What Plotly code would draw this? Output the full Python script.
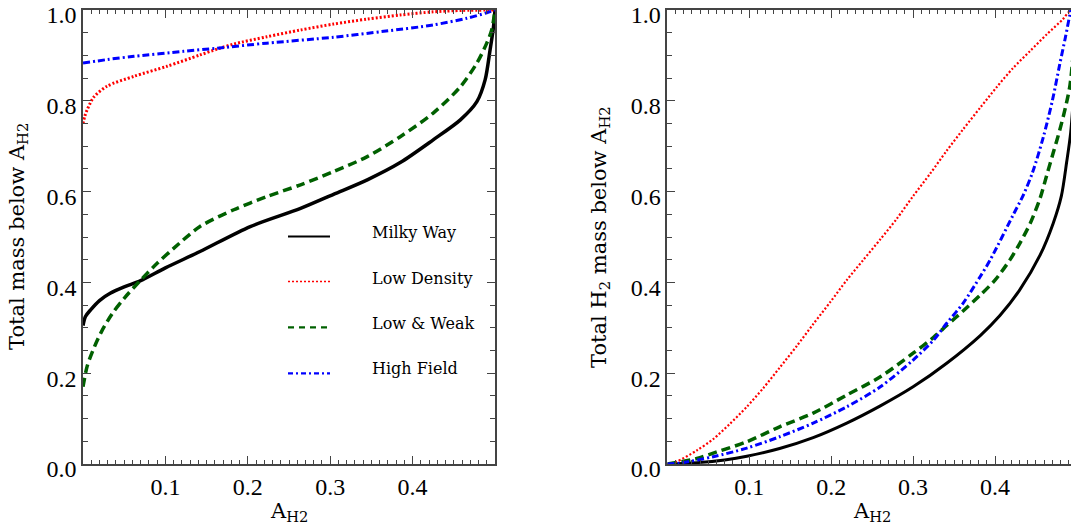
import plotly.graph_objects as go

W, H = 1071, 529

# ---------------- data ----------------
# Left panel: total mass below A_H2
mw_x = [0, 0.003, 0.009, 0.02, 0.033, 0.05, 0.07, 0.1, 0.142, 0.203, 0.264, 0.304, 0.345, 0.385, 0.425, 0.458, 0.478, 0.488, 0.494, 0.498, 0.5]
mw_y = [0.305, 0.325, 0.339, 0.36, 0.376, 0.39, 0.404, 0.432, 0.468, 0.523, 0.563, 0.594, 0.626, 0.664, 0.714, 0.758, 0.798, 0.846, 0.912, 0.96, 1.0]

ld_x = [0, 0.002, 0.005, 0.013, 0.029, 0.062, 0.102, 0.142, 0.163, 0.183, 0.223, 0.264, 0.304, 0.345, 0.385, 0.425, 0.46, 0.5]
ld_y = [0.75, 0.765, 0.78, 0.808, 0.832, 0.854, 0.876, 0.901, 0.914, 0.925, 0.941, 0.956, 0.969, 0.98, 0.989, 0.996, 0.999, 1.0]

lw_x = [0, 0.005, 0.012, 0.022, 0.035, 0.05, 0.07, 0.09, 0.11, 0.142, 0.183, 0.223, 0.264, 0.304, 0.345, 0.385, 0.425, 0.458, 0.478, 0.49, 0.496, 0.5]
lw_y = [0.17, 0.215, 0.25, 0.29, 0.33, 0.365, 0.405, 0.442, 0.475, 0.523, 0.56, 0.589, 0.615, 0.644, 0.677, 0.721, 0.773, 0.831, 0.883, 0.927, 0.956, 1.0]

hf_x = [0, 0.03, 0.062, 0.122, 0.163, 0.223, 0.304, 0.365, 0.425, 0.466, 0.49, 0.5]
hf_y = [0.883, 0.891, 0.898, 0.909, 0.916, 0.927, 0.94, 0.953, 0.967, 0.982, 0.994, 1.0]

# Right panel: total H2 mass below A_H2
mw2_x = [0, 0.036, 0.07, 0.097, 0.137, 0.178, 0.219, 0.26, 0.30, 0.341, 0.382, 0.406, 0.43, 0.455, 0.471, 0.481, 0.4875, 0.4924, 0.497, 0.5]
mw2_y = [0, 0.003, 0.009, 0.017, 0.034, 0.058, 0.09, 0.128, 0.17, 0.222, 0.283, 0.327, 0.383, 0.46, 0.53, 0.59, 0.665, 0.73, 0.85, 1.0]

ld2_x = [0, 0.011, 0.036, 0.056, 0.076, 0.097, 0.117, 0.137, 0.158, 0.178, 0.199, 0.219, 0.239, 0.26, 0.28, 0.30, 0.321, 0.341, 0.361, 0.382, 0.402, 0.422, 0.443, 0.463, 0.483, 0.49, 0.5]
ld2_y = [0, 0.005, 0.03, 0.055, 0.088, 0.126, 0.167, 0.212, 0.26, 0.308, 0.357, 0.405, 0.449, 0.495, 0.54, 0.59, 0.64, 0.69, 0.737, 0.785, 0.83, 0.872, 0.91, 0.946, 0.98, 0.995, 1.0]

lw2_x = [0, 0.036, 0.056, 0.097, 0.137, 0.178, 0.219, 0.26, 0.30, 0.325, 0.341, 0.361, 0.382, 0.40, 0.418, 0.43, 0.443, 0.455, 0.463, 0.471, 0.479, 0.486, 0.4916, 0.5]
lw2_y = [0, 0.012, 0.024, 0.049, 0.082, 0.112, 0.152, 0.192, 0.244, 0.279, 0.305, 0.337, 0.372, 0.405, 0.449, 0.485, 0.53, 0.585, 0.635, 0.685, 0.735, 0.785, 0.835, 1.0]

hf2_x = [0, 0.015, 0.056, 0.097, 0.137, 0.178, 0.219, 0.26, 0.30, 0.325, 0.341, 0.361, 0.382, 0.394, 0.422, 0.435, 0.446, 0.459, 0.47, 0.479, 0.486, 0.4915, 0.493, 0.5]
hf2_y = [0, 0.002, 0.016, 0.035, 0.06, 0.09, 0.126, 0.17, 0.229, 0.273, 0.31, 0.354, 0.413, 0.449, 0.548, 0.594, 0.643, 0.72, 0.8, 0.88, 0.94, 0.99, 1.0, 1.0]

series_names = ["Milky Way", "Low Density", "Low & Weak", "High Field"]
x_ticks = [0.1, 0.2, 0.3, 0.4]
y_ticks = [0.0, 0.2, 0.4, 0.6, 0.8, 1.0]

# ---------------- styling ----------------
COL = {"Milky Way": "black", "Low Density": "#ff0000", "Low & Weak": "#006000", "High Field": "#0000ff"}
DASH = {"Milky Way": "solid", "Low Density": "2px,2px", "Low & Weak": "9px,5px", "High Field": "7px,3px,2px,3px"}
WID = {"Milky Way": 3.5, "Low Density": 3, "Low & Weak": 3.5, "High Field": 3}
WID2 = {"Milky Way": 3, "Low Density": 2.2, "Low & Weak": 3.5, "High Field": 3}

def px(x):
    return x / W

def py(y):
    return 1 - y / H

fig = go.Figure()
left = [(mw_x, mw_y), (ld_x, ld_y), (lw_x, lw_y), (hf_x, hf_y)]
right = [(mw2_x, mw2_y), (ld2_x, ld2_y), (lw2_x, lw2_y), (hf2_x, hf2_y)]
for name, (xs, ys) in zip(series_names, left):
    fig.add_trace(go.Scatter(x=xs, y=ys, mode="lines", name=name, showlegend=False,
                             line=dict(color=COL[name], width=WID[name], dash=DASH[name], shape="spline", smoothing=0.8),
                             xaxis="x", yaxis="y"))
for name, (xs, ys) in zip(series_names, right):
    fig.add_trace(go.Scatter(x=xs, y=ys, mode="lines", name=name, showlegend=False,
                             line=dict(color=COL[name], width=WID2[name], dash=DASH[name], shape="spline", smoothing=0.8),
                             xaxis="x2", yaxis="y2"))

AX = "#444"
tickfont = dict(family="Liberation Serif", size=24, color="black")
ydom = [py(464), py(10)]

def xax(domain, rng, mirror):
    return dict(domain=domain, range=rng, tickvals=x_ticks, ticktext=[f"{v:.1f}" for v in x_ticks],
                ticks="inside", ticklen=8, tickwidth=1.4, tickcolor=AX,
                showline=True, linecolor=AX, linewidth=1.6, mirror=mirror,
                showgrid=False, zeroline=False, tickfont=tickfont, automargin=False,
                ticklabeloverflow="allow",
                minor=dict(dtick=0.01, tick0=0, ticks="inside", ticklen=4, tickwidth=1.2, tickcolor=AX, showgrid=False))

def yax(domain, anchor, mirror):
    return dict(domain=domain, range=[0, 1], anchor=anchor, tickvals=y_ticks, ticktext=[f"{v:.1f}" for v in y_ticks],
                ticks="inside", ticklen=8, tickwidth=1.4, tickcolor=AX,
                showline=True, linecolor=AX, linewidth=1.6, mirror=mirror,
                showgrid=False, zeroline=False, tickfont=tickfont, automargin=False,
                ticklabeloverflow="allow", ticklabelshift=5,
                minor=dict(dtick=0.05, tick0=0, ticks="inside", ticklen=5, tickwidth=1.2, tickcolor=AX, showgrid=False))

x2_end = (W - 667.4) / 819.0

fig.update_layout(
    width=W, height=H, margin=dict(l=0, r=0, t=0, b=0, autoexpand=False),
    paper_bgcolor="white", plot_bgcolor="white", showlegend=False,
    xaxis=dict(**xax([px(83), px(495)], [0, 0.5], "ticks"), anchor="y"),
    yaxis=yax(ydom, "x", "ticks"),
    xaxis2=dict(**xax([px(667.4), 1.0], [0, x2_end], "ticks"), anchor="y2"),
    yaxis2=yax(ydom, "x2", False),
)

# axis titles
tfont = dict(family="DejaVu Serif", size=21, color="black")
ann = [
    dict(text="Total mass below A<sub>H2</sub>", x=px(18), y=py(237), textangle=-90),
    dict(text="Total H<sub>2</sub> mass below A<sub>H2</sub>", x=px(600), y=py(237), textangle=-90),
    dict(text="A<sub>H2</sub>", x=px(289), y=py(512)),
    dict(text="A<sub>H2</sub>", x=px(872), y=py(512)),
]
for a in ann:
    fig.add_annotation(xref="paper", yref="paper", showarrow=False, font=tfont,
                       xanchor="center", yanchor="middle", **a)

# hand-drawn legend like the original
leg_line_y = [236.5, 281.5, 327.3, 373.3]
leg_text_y = [232.5, 278, 323.5, 368.5]
LDASH = {"Milky Way": "solid", "Low Density": "2px,2px", "Low & Weak": "6px,5px", "High Field": "5px,3px,2px,3px"}
LWID = {"Milky Way": 2.2, "Low Density": 1.5, "Low & Weak": 2.2, "High Field": 2.2}
for name, ly, ty in zip(series_names, leg_line_y, leg_text_y):
    fig.add_shape(type="line", xref="paper", yref="paper", x0=px(288), x1=px(330), y0=py(ly), y1=py(ly),
                  line=dict(color=COL[name], width=LWID[name], dash=LDASH[name]))
    fig.add_annotation(xref="paper", yref="paper", x=px(370), y=py(ty), text=name, showarrow=False,
                       xanchor="left", yanchor="middle", font=dict(family="DejaVu Serif", size=16, color="black"))

fig.write_html("out.html")
